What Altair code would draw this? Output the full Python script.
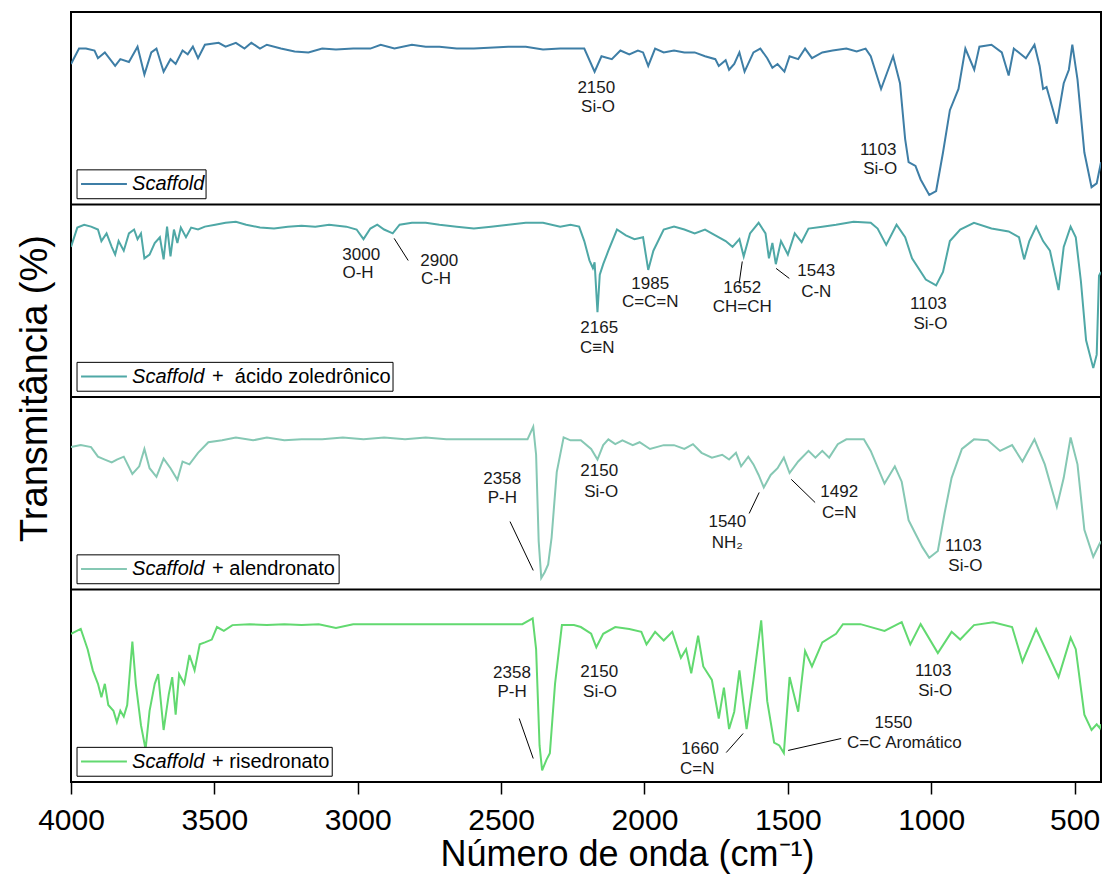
import altair as alt
import pandas as pd

FONT = "Liberation Sans, Arial, Helvetica, sans-serif"

series_names = ["Scaffold", "Scaffold + ácido zoledrônico", "Scaffold + alendronato", "Scaffold + risedronato"]
series_colors = ["#3e7ea6", "#4fa8a6", "#86c8b4", "#62d970"]
panel_offsets = [300, 200, 100, 0]

# ---- spectra (wavenumber cm-1, relative transmittance within each panel 0-100) ----
scaffold_wn = [4000, 3972, 3948, 3918, 3906, 3882, 3846, 3828, 3798, 3768, 3744, 3720, 3702, 3677, 3653, 3635,
               3611, 3593, 3575, 3557, 3533, 3485, 3461, 3425, 3395, 3371, 3341, 3317, 3268, 3220, 3172, 3124,
               3076, 3016, 2956, 2920, 2872, 2811, 2763, 2715, 2655, 2595, 2475, 2414, 2354, 2294, 2210, 2174,
               2150, 2114, 2084, 2053, 2023, 2005, 1987, 1963, 1933, 1897, 1861, 1825, 1789, 1753, 1741, 1717,
               1705, 1687, 1669, 1651, 1620, 1596, 1572, 1554, 1536, 1512, 1494, 1464, 1440, 1416, 1380, 1344,
               1296, 1260, 1229, 1211, 1175, 1133, 1109, 1091, 1079, 1055, 1037, 1007, 983, 959, 935, 905, 881,
               850, 832, 790, 754, 730, 712, 670, 640, 622, 610, 598, 562, 538, 520, 508, 490, 466, 441, 423, 408]
scaffold_t = [73, 81, 81, 80, 76, 79, 72, 75.5, 74, 82, 67.5, 79, 81, 69, 75.5, 73,
              80, 78, 82, 76, 83, 84, 82, 84, 81, 84, 81, 83, 81, 79.5, 79, 81,
              80.5, 81, 81, 83, 81, 83, 82, 82, 81, 81, 82, 82, 80.5, 81, 81, 69,
              77, 75.5, 80, 78, 80, 79, 72, 81, 79, 80, 79, 79, 77, 75.5, 72, 75,
              70, 73, 79, 69, 79, 81, 76, 71, 73, 69, 77, 75.5, 81, 76, 79, 80,
              81, 79.5, 81, 77, 60, 77, 63, 34, 22, 20, 13, 5, 7, 27, 49, 60, 81,
              70, 82, 83, 79, 67, 81, 76, 83, 72, 60, 61, 42, 63, 70, 83, 65, 27, 9, 11, 22]

zoledronico_wn = [4000, 3978, 3954, 3930, 3906, 3894, 3876, 3858, 3846, 3834, 3816, 3798, 3780, 3768, 3756, 3744,
                  3726, 3708, 3690, 3677, 3665, 3653, 3641, 3629, 3617, 3599, 3581, 3557, 3533, 3497, 3461, 3425,
                  3389, 3341, 3292, 3244, 3196, 3148, 3100, 3040, 3004, 2980, 2956, 2932, 2908, 2878, 2854, 2811,
                  2763, 2715, 2655, 2595, 2535, 2475, 2414, 2354, 2294, 2258, 2228, 2210, 2192, 2180, 2174, 2164,
                  2156, 2144, 2126, 2096, 2065, 2035, 2005, 1987, 1969, 1933, 1897, 1861, 1825, 1789, 1753, 1717,
                  1693, 1669, 1654, 1632, 1602, 1578, 1566, 1554, 1542, 1524, 1500, 1476, 1452, 1428, 1380, 1332,
                  1271, 1211, 1187, 1157, 1121, 1091, 1067, 1019, 983, 959, 935, 899, 851, 790, 730, 694, 676, 658,
                  634, 610, 586, 556, 538, 514, 496, 478, 460, 435, 423, 415, 408]
zoledronico_t = [78, 88, 89.5, 88.5, 87, 81, 85, 78, 74, 81, 76, 85, 87, 82, 85, 72,
                 74, 80, 83, 71.5, 88.5, 73, 87, 80, 88, 83, 88, 87, 88.5, 89.5, 90.5, 91,
                 89.5, 88, 87.5, 88.5, 89, 88.5, 89.5, 88.5, 87, 82, 87.5, 89.5, 87, 85, 89.5, 90.5,
                 90.5, 89.5, 88.5, 87.5, 88.5, 89.5, 90.5, 90.5, 88.5, 89.5, 88.5, 81, 71, 67, 70, 44,
                 63.5, 69, 76, 87, 84, 82, 83, 66, 76, 87, 88.5, 87, 85, 87, 84, 81,
                 78, 82, 73, 85, 90.5, 85, 72, 80, 69, 81, 74, 85, 80.5, 87.5, 88.5, 89.5,
                 91, 90.5, 87.5, 79, 89.5, 83, 72, 61, 58, 65, 81, 87, 90.5, 87.5, 86, 83, 71.5, 81,
                 88.5, 81, 76, 55.5, 78, 88.5, 83, 60, 29.5, 15, 22, 63, 65]

alendronato_wn = [4000, 3966, 3930, 3906, 3882, 3858, 3840, 3816, 3786, 3762, 3744, 3726, 3702, 3677, 3653, 3629,
                  3611, 3587, 3557, 3521, 3473, 3425, 3365, 3317, 3256, 3196, 3124, 3052, 2980, 2908, 2835, 2763,
                  2691, 2619, 2547, 2475, 2408, 2388, 2378, 2369, 2360, 2348, 2336, 2324, 2306, 2282, 2258, 2222,
                  2186, 2164, 2144, 2126, 2102, 2077, 2041, 2017, 1981, 1933, 1897, 1861, 1831, 1801, 1765, 1729,
                  1705, 1681, 1663, 1638, 1620, 1602, 1584, 1560, 1536, 1514, 1494, 1464, 1428, 1404, 1380, 1356,
                  1326, 1296, 1235, 1211, 1163, 1127, 1103, 1079, 1055, 1031, 1007, 977, 953, 929, 893, 851, 803,
                  760, 718, 682, 640, 604, 562, 538, 514, 490, 466, 435, 412, 408]
alendronato_t = [74, 75, 74, 69, 67.5, 66, 67.5, 69, 60, 64, 73, 63, 58.5, 68, 63, 57,
                 66.5, 65, 71, 76.5, 77.5, 79, 77.5, 79, 77.5, 78, 78, 79, 78, 79, 78, 79,
                 78, 78, 78, 78, 78, 84.5, 70, 25, 6, 9, 13, 27, 61, 79, 77.5, 77.5,
                 73, 67.5, 75, 78, 75.5, 77.5, 75, 76.5, 73, 75, 75, 73, 75.5, 71, 68.5, 70,
                 67.5, 71, 64, 69, 65, 59.5, 53, 59.5, 63, 68.5, 60.5, 66.5, 72, 68.5, 72, 68.5,
                 75.5, 78, 78, 72, 55, 64, 56, 36, 29, 22, 16.5, 20, 40, 58, 73, 78, 77.5,
                 72, 75, 66.5, 78, 65, 43, 58, 79, 65, 31, 17, 24, 25]

risedronato_wn = [4000, 3966, 3942, 3924, 3906, 3894, 3882, 3870, 3852, 3840, 3828, 3816, 3804, 3786, 3774, 3756,
                  3740, 3726, 3708, 3696, 3677, 3659, 3647, 3635, 3623, 3605, 3587, 3569, 3551, 3533, 3509, 3491,
                  3467, 3437, 3377, 3317, 3256, 3196, 3136, 3076, 3016, 2932, 2835, 2739, 2643, 2535, 2426, 2390,
                  2378, 2366, 2357, 2342, 2330, 2312, 2288, 2246, 2222, 2186, 2168, 2144, 2102, 2053, 2011, 1993,
                  1963, 1933, 1903, 1873, 1855, 1837, 1813, 1795, 1765, 1741, 1723, 1705, 1687, 1669, 1644, 1620,
                  1593, 1572, 1548, 1530, 1514, 1494, 1464, 1440, 1416, 1380, 1332, 1308, 1247, 1163, 1103, 1073,
                  1037, 977, 929, 899, 851, 784, 718, 682, 634, 556, 514, 496, 466, 441, 423, 412, 408]
risedronato_t = [77, 79.5, 69, 58, 51, 44, 51, 40, 37, 31, 37, 34, 40, 73, 51, 29.5,
                 17, 37, 51, 56, 27, 45.5, 54.5, 35, 56, 51, 66, 58, 71.5, 72.5, 74, 80.5,
                 78.5, 81.5, 82, 81.5, 82, 81.5, 82, 80, 82, 82, 82, 82, 82, 82, 82, 85,
                 69, 19, 6, 11.5, 15, 51, 81.5, 81.5, 80.5, 77, 70, 77, 80.5, 79.5, 78, 71.5,
                 78, 73.5, 78, 64.5, 69, 56.5, 76, 60, 53, 33, 49, 27.5, 36.5, 58, 27.5, 53,
                 84, 42, 20.5, 19, 15, 54.5, 36.5, 68, 60, 72.5, 77, 82, 82, 78.5, 83, 71.5,
                 82, 67, 78, 74, 81.5, 83, 80.5, 62.5, 79.5, 54.5, 75, 69, 35, 27, 30, 28, 30]

# ---- peak annotations ----
ann_text = ["2150", "Si-O", "1103", "Si-O",
            "3000", "O-H", "2900", "C-H", "2165", "C≡N", "1985", "C=C=N", "1652", "CH=CH", "1543", "C-N", "1103", "Si-O",
            "2358", "P-H", "2150", "Si-O", "1540", "NH₂", "1492", "C=N", "1103", "Si-O",
            "2358", "P-H", "2150", "Si-O", "1103", "Si-O", "1660", "C=N", "1550", "C=C Aromático"]
ann_wn = [2168, 2162, 1185, 1178,
          2988, 2999, 2716, 2727, 2158, 2165, 1980, 1980, 1659, 1659, 1401, 1401, 1010, 1003,
          2496, 2496, 2158, 2151, 1711, 1711, 1321, 1321, 888, 881,
          2462, 2462, 2158, 2155, 993, 986, 1806, 1816, 1132, 1094]
ann_y = [360.3, 350.9, 328.1, 318.2,
         274.0, 264.2, 270.9, 261.1, 236.1, 225.2, 258.5, 249.1, 256.4, 246.5, 265.2, 254.3, 248.1, 237.7,
         157.2, 147.3, 161.3, 150.9, 135.3, 124.4, 150.4, 140.0, 122.4, 112.0,
         56.4, 46.5, 57.4, 47.0, 57.9, 47.5, 17.4, 7.0, 30.9, 20.5]

lead_wn = [2873, 1659, 1541, 2469, 1600, 1488, 2437, 1715, 1499]
lead_y = [282.4, 270.4, 266.8, 135.3, 150.4, 157.2, 33.0, 15.3, 16.4]
lead_wn2 = [2824, 1670, 1495, 2388, 1635, 1405, 2388, 1656, 1314]
lead_y2 = [270.9, 259.0, 261.6, 109.9, 139.5, 145.2, 12.2, 25.2, 22.6]

# ---- in-panel legend boxes ----
leg_left = 3979
leg_right = [3529, 2877, 3065, 3089]
leg_line = [3965, 3805]
leg_text_wn = 3787
leg_rest_wn = 3508
leg_rest = ["", "+\u00a0 ácido zoledrônico", "+ alendronato", "+ risedronato"]
leg_box = [3, 18]
leg_mid = 10.6

xticks = [4000, 3500, 3000, 2500, 2000, 1500, 1000, 500]

# ---- build tables ----
rows = []
all_wn = [scaffold_wn, zoledronico_wn, alendronato_wn, risedronato_wn]
all_t = [scaffold_t, zoledronico_t, alendronato_t, risedronato_t]
for name, off, wns, ts in zip(series_names, panel_offsets, all_wn, all_t):
    for i, (w, t) in enumerate(zip(wns, ts)):
        rows.append({"serie": name, "wn": w, "y": t + off, "i": i})
df = pd.DataFrame(rows)

ann_df = pd.DataFrame({"wn": ann_wn, "y": ann_y, "text": ann_text})
lead_df = pd.DataFrame({"wn": lead_wn, "y": lead_y, "wn2": lead_wn2, "y2": lead_y2})
sep_df = pd.DataFrame({"y": panel_offsets[:3]})
leg_df = pd.DataFrame({
    "serie": series_names,
    "x1": [leg_left] * 4, "x2": leg_right,
    "y1": [o + leg_box[0] for o in panel_offsets],
    "y2": [o + leg_box[1] for o in panel_offsets],
    "lx1": [leg_line[0]] * 4, "lx2": [leg_line[1]] * 4,
    "ym": [o + leg_mid for o in panel_offsets],
    "tx": [leg_text_wn] * 4, "rx": [leg_rest_wn] * 4,
    "italic": ["Scaffold"] * 4, "rest": leg_rest,
})

x_scale = alt.Scale(domain=[408, 4000], reverse=True, nice=False, zero=False)
y_scale = alt.Scale(domain=[0, 400], nice=False, zero=False)
color_scale = alt.Scale(domain=series_names, range=series_colors)

x_enc = alt.X("wn:Q", scale=x_scale, title="Número de onda (cm⁻¹)",
              axis=alt.Axis(values=xticks, format="d", grid=False, domain=False,
                            tickSize=12, tickWidth=1.5, tickColor="black",
                            labelFontSize=30, labelColor="black", labelFont=FONT, labelPadding=11,
                            labelFlush=False, labelOverlap=False,
                            titleFontSize=36, titleFontWeight="normal", titleColor="black",
                            titleFont=FONT, titlePadding=2, titleX=556))
y_enc = alt.Y("y:Q", scale=y_scale, title="Transmitância (%)",
              axis=alt.Axis(labels=False, ticks=False, domain=False, grid=False,
                            titleFontSize=38, titleFontWeight="normal", titleColor="black",
                            titleFont=FONT, titlePadding=17, titleY=376))

lines = alt.Chart(df).mark_line(strokeWidth=2, clip=True).encode(
    x=x_enc, y=y_enc,
    color=alt.Color("serie:N", scale=color_scale, legend=None),
    order=alt.Order("i:Q"),
)

seps = alt.Chart(sep_df).mark_rule(color="black", strokeWidth=2).encode(
    y=alt.Y("y:Q", scale=y_scale)
)

labels = alt.Chart(ann_df).mark_text(fontSize=17, font=FONT, color="#1a1a1a").encode(
    x=alt.X("wn:Q", scale=x_scale), y=alt.Y("y:Q", scale=y_scale), text="text:N"
)

leads = alt.Chart(lead_df).mark_rule(color="black", strokeWidth=1).encode(
    x=alt.X("wn:Q", scale=x_scale), y=alt.Y("y:Q", scale=y_scale), x2="wn2:Q", y2="y2:Q"
)

leg_boxes = alt.Chart(leg_df).mark_rect(fill="white", stroke="black", strokeWidth=1).encode(
    x=alt.X("x1:Q", scale=x_scale), x2="x2:Q", y=alt.Y("y1:Q", scale=y_scale), y2="y2:Q"
)
leg_lines = alt.Chart(leg_df).mark_rule(strokeWidth=2).encode(
    x=alt.X("lx1:Q", scale=x_scale), x2="lx2:Q", y=alt.Y("ym:Q", scale=y_scale),
    color=alt.Color("serie:N", scale=color_scale, legend=None),
)
leg_it = alt.Chart(leg_df).mark_text(fontSize=20, font=FONT, fontStyle="italic", align="left",
                                     baseline="middle", color="black").encode(
    x=alt.X("tx:Q", scale=x_scale), y=alt.Y("ym:Q", scale=y_scale), text="italic:N"
)
leg_rest_t = alt.Chart(leg_df).mark_text(fontSize=20, font=FONT, align="left",
                                         baseline="middle", color="black").encode(
    x=alt.X("rx:Q", scale=x_scale), y=alt.Y("ym:Q", scale=y_scale), text="rest:N"
)

chart = alt.layer(lines, seps, leads, labels, leg_boxes, leg_lines, leg_it, leg_rest_t).properties(
    width=1030, height=770,
    autosize=alt.AutoSizeParams(type="none"),
    padding={"left": 71, "top": 12, "right": 1, "bottom": 93},
    background="white",
).configure(font=FONT).configure_view(stroke="black", strokeWidth=2)

chart.save("out.html", embed_options={"renderer": "svg", "actions": False})
